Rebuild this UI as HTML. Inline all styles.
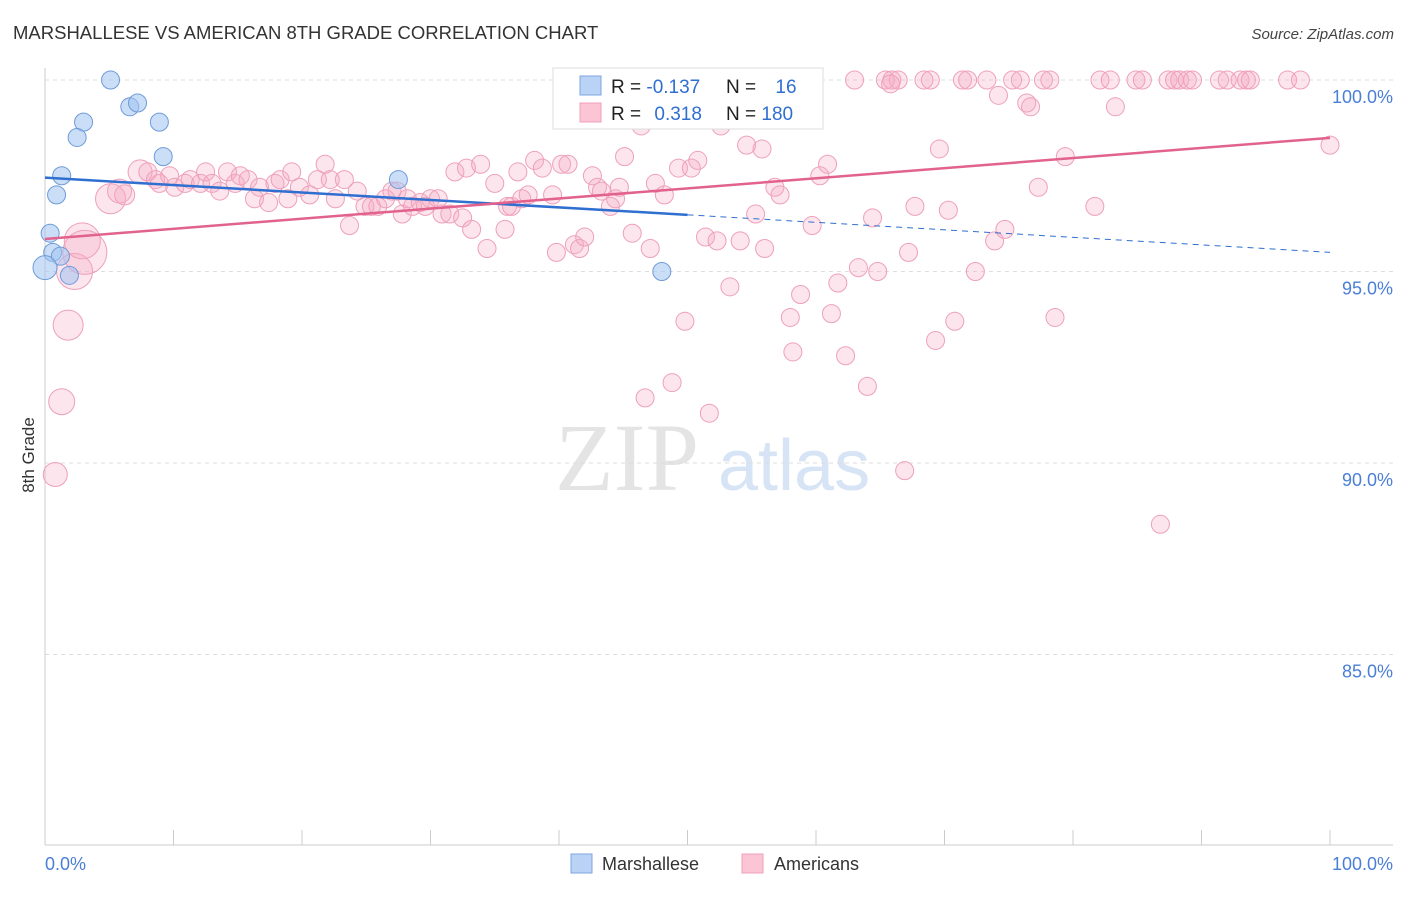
<!DOCTYPE html>
<html><head><meta charset="utf-8"><style>
body{margin:0;background:#fff;font-family:"Liberation Sans",sans-serif;}
</style></head><body>
<svg id="chart" width="1406" height="892" xmlns="http://www.w3.org/2000/svg" font-family="Liberation Sans, sans-serif">
<text x="13" y="39" font-size="18.5" fill="#333">MARSHALLESE VS AMERICAN 8TH GRADE CORRELATION CHART</text>
<text x="1394" y="39" font-size="15" fill="#444" font-style="italic" text-anchor="end">Source: ZipAtlas.com</text>
<text x="555" y="490" font-size="96" fill="#e4e4e4" font-family="Liberation Serif, serif">ZIP</text>
<text x="718" y="490" font-size="72" fill="#d7e4f5">atlas</text>
<text transform="translate(34,455) rotate(-90)" font-size="17" fill="#333" text-anchor="middle">8th Grade</text>
<g id="grid"></g><g id="ticks"></g><g id="pink"></g><g id="blue"></g><g id="lines"></g>
<g>
<rect x="553" y="68" width="270" height="61" fill="#fff" stroke="#ddd"/>
<rect x="580" y="76" width="21" height="19" fill="#b9d2f5" stroke="#7ea6e0"/>
<rect x="580" y="103" width="21" height="19" fill="#fbc5d5" stroke="#efa0b8"/>
<text x="611" y="93" font-size="19" fill="#222">R = <tspan fill="#2f6fd0">-0.137</tspan></text>
<text x="726" y="93" font-size="19" fill="#222">N = <tspan fill="#2f6fd0" dx="14">16</tspan></text>
<text x="611" y="120" font-size="19" fill="#222">R = <tspan fill="#2f6fd0" dx="8">0.318</tspan></text>
<text x="726" y="120" font-size="19" fill="#222">N = <tspan fill="#2f6fd0">180</tspan></text>
</g>
<g>
<rect x="571" y="854" width="21" height="19" fill="#b9d2f5" stroke="#7ea6e0"/>
<text x="602" y="870" font-size="18" fill="#333">Marshallese</text>
<rect x="742" y="854" width="21" height="19" fill="#fbc5d5" stroke="#efa0b8"/>
<text x="774" y="870" font-size="18" fill="#333">Americans</text>
</g>
<text x="45" y="870" font-size="18" fill="#4a7fd6">0.0%</text>
<text x="1393" y="870" font-size="18" fill="#4a7fd6" text-anchor="end">100.0%</text>
</svg>
<script>
const yTicks=[100,95,90,85];
const yTickLabels=["100.0%","95.0%","90.0%","85.0%"];
const blueX=[5.1,6.6,7.2,3.0,2.5,8.9,9.2,1.3,0.9,0.4,0.6,1.2,1.9,0,27.5,48.0];
const blueY=[100,99.3,99.4,98.9,98.5,98.9,98.0,97.5,97.0,96.0,95.5,95.4,94.9,95.1,97.4,95.0];
const blueR=[9,9,9,9,9,9,9,9,9,9,9,9,9,12,9,9];
const pinkX=[59.2,63.0,65.4,65.9,66.4,68.4,68.9,71.4,71.8,73.3,75.3,75.9,77.7,78.2,82.1,82.9,84.9,85.4,87.4,87.9,88.3,88.9,89.3,91.4,92.0,93.0,93.5,93.8,96.7,97.7,
65.8,74.2,76.4,76.7,83.3,100,46.4,52.6,54.6,55.8,69.6,79.4,77.3,81.7,
0.8,1.3,1.8,2.3,3.1,2.9,5.1,5.8,6.2,7.4,
8.0,8.6,8.9,9.7,10.1,10.9,11.3,12.1,12.5,13.0,13.6,14.2,14.8,15.2,15.8,16.3,16.7,17.4,17.9,18.3,18.9,19.2,19.8,20.6,21.2,21.8,22.2,22.6,23.3,23.7,24.3,24.9,25.4,25.9,26.5,27.0,27.4,27.8,28.2,28.6,29.2,29.6,30.0,30.6,30.9,31.5,31.9,32.5,32.8,33.2,33.9,34.4,35.0,35.8,36.0,36.3,36.8,37.1,37.6,38.1,38.7,39.5,39.8,40.2,40.7,41.2,41.6,42.0,42.6,43.0,43.3,44.0,44.4,44.7,45.1,45.7,47.1,47.5,48.2,48.8,49.3,49.8,50.3,50.8,51.4,51.7,52.3,53.3,54.1,55.3,56.0,56.8,57.2,58.0,58.2,58.8,59.7,60.3,60.9,61.2,61.7,62.3,63.3,64.0,64.4,64.8,67.2,67.7,69.3,70.3,70.8,72.4,73.9,74.7,78.6,86.8,46.7,66.9];
const pinkY=[100,100,100,100,100,100,100,100,100,100,100,100,100,100,100,100,100,100,100,100,100,100,100,100,100,100,100,100,100,100,
99.9,99.6,99.4,99.3,99.3,98.3,98.8,98.8,98.3,98.2,98.2,98.0,97.2,96.7,
89.7,91.6,93.6,95.0,95.5,95.8,96.9,97.1,97.0,97.6,
97.6,97.4,97.3,97.5,97.2,97.3,97.4,97.3,97.6,97.3,97.1,97.6,97.3,97.5,97.4,96.9,97.2,96.8,97.3,97.4,96.9,97.6,97.2,97.0,97.4,97.8,97.4,96.9,97.4,96.2,97.1,96.7,96.7,96.7,96.9,97.1,97.1,96.5,96.9,96.7,96.8,96.7,96.9,96.9,96.5,96.5,97.6,96.4,97.7,96.1,97.8,95.6,97.3,96.1,96.7,96.7,97.6,96.9,97.0,97.9,97.7,97.0,95.5,97.8,97.8,95.7,95.6,95.9,97.5,97.2,97.1,96.7,96.9,97.2,98.0,96.0,95.6,97.3,97.0,92.1,97.7,93.7,97.7,97.9,95.9,91.3,95.8,94.6,95.8,96.5,95.6,97.2,97.0,93.8,92.9,94.4,96.2,97.5,97.8,93.9,94.7,92.8,95.1,92.0,96.4,95.0,95.5,96.7,93.2,96.6,93.7,95.0,95.8,96.1,93.8,88.4,91.7,89.8];
const pinkR=pinkX.map((_, i)=>[12,13,15,18,22,18,15,12,10,12][i-44]||9);
const blueTrend=[[0,97.45],[50,96.48],[100,95.5]];
const pinkTrend=[[0,95.85],[100,98.49]];
const NS="http://www.w3.org/2000/svg";
const X=v=>45+v*12.85, Y=v=>80+(100-v)*38.3;
function mk(t,a,p){const e=document.createElementNS(NS,t);for(const k in a)e.setAttribute(k,a[k]);p.appendChild(e);return e;}
const grid=document.getElementById('grid');
yTicks.forEach((t,i)=>{
 const l=mk('line',{x1:45,x2:1393,y1:Y(t),y2:Y(t),stroke:'#ddd','stroke-dasharray':'4,4'},grid);
 
 
 const tx=mk('text',{x:1393,y:Y(t)+23,'font-size':18,fill:'#4a7fd6','text-anchor':'end'},grid);
 tx.textContent=yTickLabels[i];
 
 
});
const tk=document.getElementById('ticks');
mk('line',{x1:45,x2:45,y1:68,y2:845,stroke:'#ccc'},tk);
mk('line',{x1:45,x2:1393,y1:845,y2:845,stroke:'#ccc'},tk);
for(let i=1;i<=10;i++){const l=mk('line',{x1:X(i*10),x2:X(i*10),y1:830,y2:845,stroke:'#ccc'},tk);
 
 }
const pg=document.getElementById('pink');
pinkX.forEach((x,i)=>{const c=mk('circle',{cx:X(x),cy:Y(pinkY[i]),r:pinkR[i],fill:'rgba(246,170,196,0.3)',stroke:'#eea0ba','stroke-width':1},pg);
 
 });
const bg=document.getElementById('blue');
blueX.forEach((x,i)=>{const c=mk('circle',{cx:X(x),cy:Y(blueY[i]),r:blueR[i],fill:'rgba(160,195,240,0.55)',stroke:'#6f9bd8','stroke-width':1},bg);
 
 });
const lg=document.getElementById('lines');
const b1=mk('line',{x1:X(blueTrend[0][0]),y1:Y(blueTrend[0][1]),x2:X(blueTrend[1][0]),y2:Y(blueTrend[1][1]),stroke:'#2f6fd0','stroke-width':2.5},lg);


const b2=mk('line',{x1:X(blueTrend[1][0]),y1:Y(blueTrend[1][1]),x2:X(blueTrend[2][0]),y2:Y(blueTrend[2][1]),stroke:'#2f6fd0','stroke-width':1,'stroke-dasharray':'6,5'},lg);


const p1=mk('line',{x1:X(pinkTrend[0][0]),y1:Y(pinkTrend[0][1]),x2:X(pinkTrend[1][0]),y2:Y(pinkTrend[1][1]),stroke:'#e2628e','stroke-width':2.5},lg);


</script>
</body></html>
